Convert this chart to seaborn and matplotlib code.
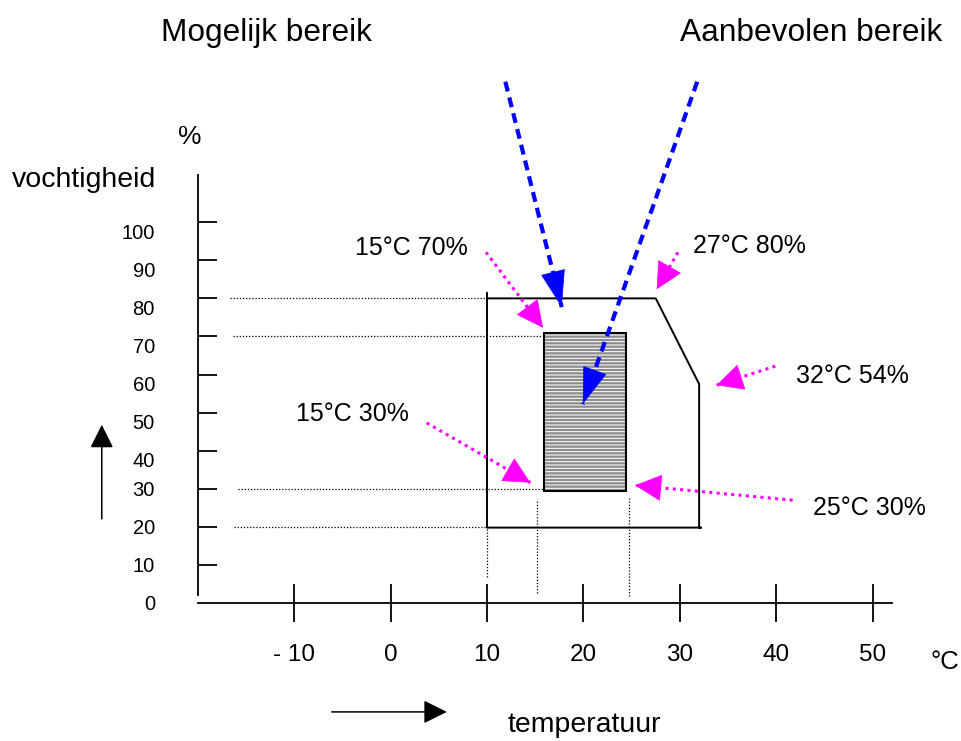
import matplotlib
matplotlib.use("Agg")
import matplotlib.pyplot as plt
import matplotlib.transforms as mtransforms
from matplotlib.patches import Rectangle
import numpy as np
import seaborn as sns
import pandas as pd

# axis ticks
temp_ticks = [-10, 0, 10, 20, 30, 40, 50]
temp_labels = ['- 10', '0', '10', '20', '30', '40', '50']
hum_ticks = [0, 10, 20, 30, 40, 50, 60, 70, 80, 90, 100]
hum_labels = [str(v) for v in hum_ticks]

# possible range (outline)
possible_temp = [10, 10, 32.2, 32, 32, 27.5, 10]
possible_hum = [81.5, 19.8, 19.8, 19.8, 57.5, 80, 80]

# recommended range (hatched box)
rec_temp = [15.9, 24.4]
rec_hum = [29.3, 70.9]

# dotted guide lines
guide_h_y = [80, 70, 30, 20]
guide_h_x0 = [-16.6, -16.3, -15.8, -16.2]
guide_h_x1 = [10, 15.9, 15.9, 10]
guide_v_x = [10, 15.2, 24.75]
guide_v_y0 = [6.9, 2.7, 1.9]
guide_v_y1 = [19.8, 27.2, 27.7]

# magenta callouts: label, text pos, arrow start, arrow tip
call_labels = ['15°C 70%', '27°C 80%', '32°C 54%', '25°C 30%', '15°C 30%']
call_text = [(2.2, 91.4), (37.2, 91.8), (47.9, 57.7), (49.7, 23.0), (-4.0, 47.9)]
call_start = [(9.9, 92.1), (29.8, 92.1), (39.9, 62.2), (41.7, 27.0), (3.75, 47.3)]
call_tip = [(15.8, 72.3), (27.6, 82.4), (33.8, 57.2), (25.35, 30.9), (14.5, 31.6)]

# blue dashed pointers from the titles
titles = ['Mogelijk bereik', 'Aanbevolen bereik']
title_pos = [(-12.84, 147.5), (43.6, 147.5)]
blue_start = [(11.9, 136.9), (31.8, 136.9)]
blue_tip = [(17.75, 77.7), (19.93, 52.2)]

sns.set_theme(style='white')
plt.rcParams['font.family'] = ['Liberation Sans', 'DejaVu Sans']
plt.rcParams['hatch.linewidth'] = 0.75
plt.rcParams['text.color'] = 'black'
plt.rcParams['xtick.color'] = 'black'
plt.rcParams['ytick.color'] = 'black'

fig = plt.figure(figsize=(9.61, 7.41), dpi=100)
ax = fig.add_axes([198 / 961, (741 - 603) / 741, (892 - 198) / 961, (603 - 175) / 741])
ax.set_xlim(-19.97, 52.0)
ax.set_ylim(0.9, 112.4)

sns.despine(ax=ax)
for s in ['left', 'bottom']:
    ax.spines[s].set_color('black')
    ax.spines[s].set_linewidth(1.3)
ax.spines['left'].set_bounds(2.2, 112.4)

ax.set_xticks(temp_ticks)
ax.set_xticklabels(temp_labels, fontsize=17.5, color='black')
ax.set_yticks(hum_ticks)
ax.set_yticklabels(hum_labels, fontsize=14.5, color='black')
ax.tick_params(axis='x', direction='inout', length=27.4, width=1.3, color='black', pad=16, bottom=True)
ax.tick_params(axis='y', direction='in', length=13.7, width=1.3, color='black', pad=31, left=True)
ax.yaxis.get_major_ticks()[0].tick1line.set_visible(False)
shift = mtransforms.ScaledTranslation(0, -6.5 / 72, fig.dpi_scale_trans)
for v, lab in zip(hum_ticks, ax.get_yticklabels()):
    if v >= 40:
        lab.set_transform(lab.get_transform() + shift)
ax.grid(False)

# guide lines
ax.hlines(guide_h_y, guide_h_x0, guide_h_x1, colors='black', linestyles=(0, (1, 1.5)), linewidth=0.9)
ax.vlines(guide_v_x, guide_v_y0, guide_v_y1, colors='black', linestyles=(0, (1, 1.5)), linewidth=0.9)

# possible range outline
df = pd.DataFrame({'temp': possible_temp, 'hum': possible_hum})
sns.lineplot(data=df, x='temp', y='hum', sort=False, estimator=None, color='black', linewidth=1.4, ax=ax)
ax.set_xlabel('')
ax.set_ylabel('')

# recommended box
w = rec_temp[1] - rec_temp[0]
h = rec_hum[1] - rec_hum[0]
ax.add_patch(Rectangle((rec_temp[0], rec_hum[0]), w, h, facecolor='#8c8c8c', edgecolor='white',
                       hatch='-----', linewidth=0, zorder=3))
ax.add_patch(Rectangle((rec_temp[0], rec_hum[0]), w, h, fill=False, edgecolor='black', linewidth=1.5, zorder=4))


def pointer(start, tip, color, lw, ls, head, z):
    # shaft in the given line style, head drawn solid
    ax.plot([start[0], tip[0]], [start[1], tip[1]], color=color, linewidth=lw, linestyle=ls,
            clip_on=False, zorder=z, solid_capstyle='butt', dash_capstyle='butt')
    p0 = ax.transData.transform(start)
    p1 = ax.transData.transform(tip)
    u = (p1 - p0) / np.hypot(*(p1 - p0))
    back = ax.transData.inverted().transform(p1 - u * 6)
    ax.annotate('', xy=tip, xytext=back, annotation_clip=False, zorder=z + 0.1,
                arrowprops=dict(arrowstyle=head, mutation_scale=20, color=color, linewidth=0.5,
                                shrinkA=0, shrinkB=0))


# magenta callouts
for lab, tp, st, tip in zip(call_labels, call_text, call_start, call_tip):
    ax.text(tp[0], tp[1], lab, ha='center', va='baseline', fontsize=18, color='black', clip_on=False)
    pointer(st, tip, '#FF00FF', 2.2, (0, (1, 1.4)), '-|>,head_length=0.9,head_width=0.45', 5)

# titles and blue pointers
for t, tp in zip(titles, title_pos):
    ax.text(tp[0], tp[1], t, ha='center', va='baseline', fontsize=22.8, color='black', clip_on=False)
for st, tip in zip(blue_start, blue_tip):
    pointer(st, tip, '#0000FF', 3.0, (0, (2.4, 1.5)), '-|>,head_length=1.25,head_width=0.42', 6)

# axis names and direction arrows
ax.text(-20.79, 120.6, '%', ha='center', va='baseline', fontsize=19, clip_on=False)
ax.text(-31.78, 109.3, 'vochtigheid', ha='center', va='baseline', fontsize=20.5, clip_on=False)
ax.text(57.5, -15.5, '°C', ha='center', va='center', fontsize=18.5, clip_on=False)
ax.text(20.07, -33.8, 'temperatuur', ha='center', va='baseline', fontsize=20.5, clip_on=False)
ax.annotate('', xy=(-29.95, 46.8), xytext=(-29.95, 22.1), annotation_clip=False,
            arrowprops=dict(arrowstyle='-|>,head_length=0.72,head_width=0.36', mutation_scale=20,
                            color='black', linewidth=1.1, shrinkA=0, shrinkB=0))
ax.annotate('', xy=(5.83, -28.6), xytext=(-6.1, -28.6), annotation_clip=False,
            arrowprops=dict(arrowstyle='-|>,head_length=0.72,head_width=0.36', mutation_scale=20,
                            color='black', linewidth=1.1, shrinkA=0, shrinkB=0))

fig.savefig('out.png', dpi=100, facecolor='white')
